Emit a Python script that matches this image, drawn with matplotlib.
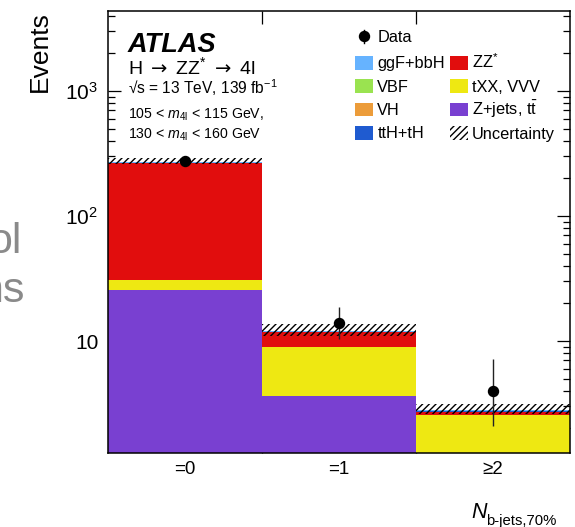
import matplotlib
matplotlib.use("Agg")
import matplotlib.pyplot as plt
import numpy as np
from matplotlib.patches import Rectangle
from matplotlib.lines import Line2D
from matplotlib.ticker import FixedLocator, FixedFormatter, LogLocator, NullFormatter

plt.rcParams['font.family'] = ['Liberation Sans', 'DejaVu Sans']
plt.rcParams['mathtext.fontset'] = 'custom'
plt.rcParams['mathtext.rm'] = 'Liberation Sans'
plt.rcParams['mathtext.it'] = 'Liberation Sans:italic'
plt.rcParams['mathtext.bf'] = 'Liberation Sans:bold'
plt.rcParams['mathtext.sf'] = 'DejaVu Sans'
plt.rcParams['hatch.linewidth'] = 1.0

# ---------------- data ----------------
categories = ["=0", "=1", "\u22652"]
zjets = [25.7, 3.64, 0.9]        # Z+jets, ttbar
txx = [4.8, 5.26, 1.65]          # tXX, VVV
zz = [234.0, 2.8, 0.15]          # ZZ*
tth = [0.2, 0.1, 0.05]           # ttH+tH
vh = [0.5, 0.03, 0.01]           # VH
vbf = [0.5, 0.03, 0.01]          # VBF
ggf = [4.0, 0.1, 0.02]           # ggF+bbH
unc_lo = [261.0, 11.0, 2.6]
unc_hi = [294.0, 13.6, 3.16]
data = [276, 14, 4]
data_err_lo = [16.6, 3.7, 1.9]
data_err_hi = [17.6, 4.8, 3.2]

# ---------------- figure ----------------
W, H = 575, 527
fig = plt.figure(figsize=(W / 100, H / 100), dpi=100)

def fx(px):
    return px / W

def fy(py):
    return 1 - py / H

ax = fig.add_axes([fx(108), fy(453), fx(570) - fx(108), fy(10.7) - fy(453)])

x = np.arange(len(categories))
colors = {
    'zjets': '#7940d1', 'txx': '#eee812', 'zz': '#e10d0d', 'tth': '#1f5bd0',
    'vh': '#ec9c3a', 'vbf': '#9ae350', 'ggf': '#66b3ff',
}
series = [(zjets, 'zjets'), (txx, 'txx'), (zz, 'zz'), (tth, 'tth'),
          (vh, 'vh'), (vbf, 'vbf'), (ggf, 'ggf')]
bottom = np.zeros(len(categories))
for vals, key in series:
    v = np.array(vals)
    ax.bar(x, v, width=1.0, bottom=bottom, color=colors[key], linewidth=0, zorder=2)
    bottom = bottom + v

lo = np.array(unc_lo)
hi = np.array(unc_hi)
ax.bar(x, hi - lo, width=1.0, bottom=lo, fill=False, hatch='/////', edgecolor='black',
       linewidth=0, zorder=3)

ax.errorbar(x, data, yerr=[data_err_lo, data_err_hi], fmt='o', color='black',
            ms=7.2, elinewidth=1.0, ecolor='#222222', capsize=0, zorder=5)

ax.set_yscale('log')
ax.set_ylim(1.27, 4400)
ax.set_xlim(-0.5, 2.5)

# y ticks
ax.yaxis.set_major_locator(FixedLocator([10, 100, 1000]))
ax.yaxis.set_major_formatter(FixedFormatter(["10", "$10^{2}$", "$10^{3}$"]))
ax.yaxis.set_minor_locator(LogLocator(base=10, subs=np.arange(2, 10), numticks=20))
ax.yaxis.set_minor_formatter(NullFormatter())
ax.tick_params(axis='y', which='major', direction='in', length=9.4, width=0.9,
               left=True, right=True, labelsize=15, pad=7)
ax.tick_params(axis='y', which='minor', direction='in', length=5, width=0.9,
               left=True, right=True)

# x ticks: bin boundaries as major ticks, category labels on minor ticks
ax.xaxis.set_major_locator(FixedLocator([0.5, 1.5]))
ax.xaxis.set_major_formatter(NullFormatter())
ax.xaxis.set_minor_locator(FixedLocator(x))
ax.xaxis.set_minor_formatter(FixedFormatter(categories))
ax.tick_params(axis='x', which='major', direction='in', length=9.4, width=0.9,
               top=True, bottom=True)
ax.tick_params(axis='x', which='minor', length=0, labelsize=13.5, pad=6)

for s in ax.spines.values():
    s.set_linewidth(1.1)

# axis titles
fig.text(fx(47), fy(11), 'Events', rotation=90, rotation_mode='anchor',
         ha='right', va='baseline', fontsize=19)
fig.text(fx(471), fy(518), 'N', style='italic', fontsize=15.5, ha='left', va='baseline')
fig.text(fx(486), fy(525.5), 'b-jets,70%', fontsize=10.7, ha='left', va='baseline')

# ATLAS labels
fig.text(fx(128), fy(51.7), 'ATLAS', fontsize=19.5, fontweight='bold', style='italic',
         ha='left', va='baseline')
fig.text(fx(128), fy(74.3),
         'H $\\mathsf{\\rightarrow}$ ZZ$^{*}$ $\\mathsf{\\rightarrow}$ 4l',
         fontsize=14, ha='left', va='baseline')
fig.text(fx(128), fy(94), '\u221as = 13 TeV, 139 fb$^{-1}$', fontsize=11.2, ha='left', va='baseline')
fig.text(fx(128), fy(118.3), '105 < $m_{\\mathrm{4l}}$ < 115 GeV,', fontsize=10.2, ha='left', va='baseline')
fig.text(fx(128), fy(138.3), '130 < $m_{\\mathrm{4l}}$ < 160 GeV', fontsize=10.2, ha='left', va='baseline')

# gray partial text at the left edge (cut by the figure border as in the reference)
fig.text(fx(22), fy(253), 'ol', color='#8a8a8a', fontsize=31, ha='right', va='baseline')
fig.text(fx(24), fy(302), 'ns', color='#8a8a8a', fontsize=31, ha='right', va='baseline')

# legend (drawn by hand for exact row alignment)
leg_fs = 11.8
fig.add_artist(Line2D([fx(364.3), fx(364.3)], [fy(29.5), fy(43)], color='black', lw=1.0,
                      transform=fig.transFigure))
fig.add_artist(Line2D([fx(364.3)], [fy(36.3)], marker='o', ms=7.2, color='black',
                      linestyle='none', transform=fig.transFigure))
fig.text(fx(377.3), fy(41.7), 'Data', fontsize=leg_fs, ha='left', va='baseline')

row_top = [56.0, 79.4, 102.8, 126.2]
col1 = [('ggf', 'ggF+bbH'), ('vbf', 'VBF'), ('vh', 'VH'), ('tth', 'ttH+tH')]
col2 = [('zz', 'ZZ$^{*}$'), ('txx', 'tXX, VVV'), ('zjets', 'Z+jets, t$\\bar{\\mathrm{t}}$'),
        (None, 'Uncertainty')]
sq_w, sq_h = 17.7, 13.6
for (key, lab), top in zip(col1, row_top):
    fig.add_artist(Rectangle((fx(355), fy(top + sq_h)), sq_w / W, sq_h / H,
                             facecolor=colors[key], edgecolor='none',
                             transform=fig.transFigure))
    fig.text(fx(377.3), fy(top + 12.3), lab, fontsize=leg_fs, ha='left', va='baseline')
for (key, lab), top in zip(col2, row_top):
    if key is None:
        fig.add_artist(Rectangle((fx(450), fy(top + sq_h)), sq_w / W, sq_h / H,
                                 facecolor='white', edgecolor='black', hatch='/////',
                                 linewidth=0, transform=fig.transFigure))
    else:
        fig.add_artist(Rectangle((fx(450), fy(top + sq_h)), sq_w / W, sq_h / H,
                                 facecolor=colors[key], edgecolor='none',
                                 transform=fig.transFigure))
    fig.text(fx(471.7), fy(top + 12.3), lab, fontsize=leg_fs, ha='left', va='baseline')

fig.savefig('out.png', dpi=100)
